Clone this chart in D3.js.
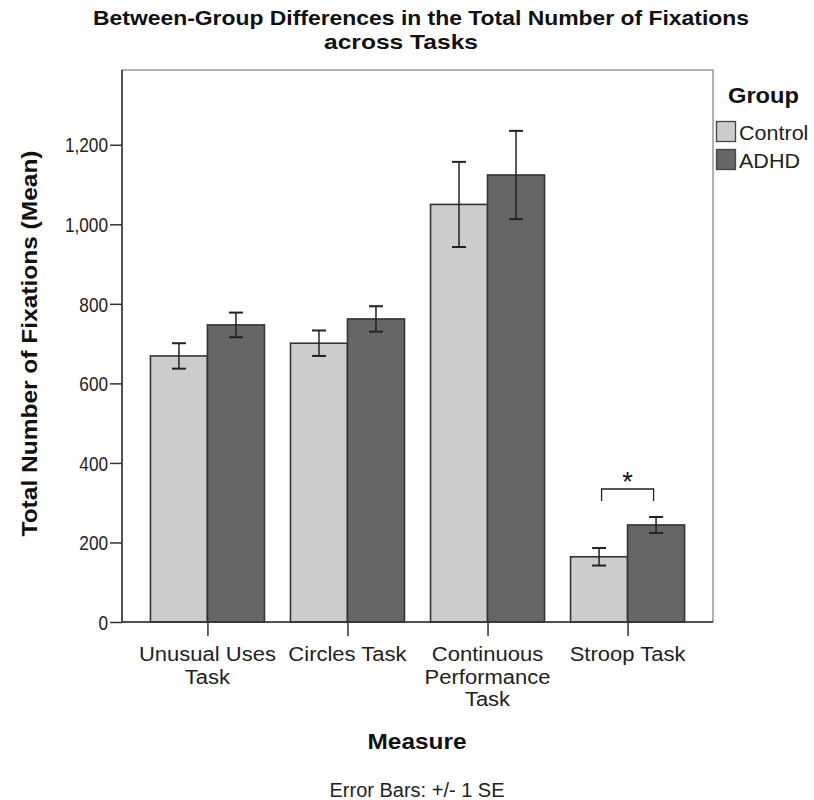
<!DOCTYPE html>
<html>
<head>
<meta charset="utf-8">
<script src="https://cdn.jsdelivr.net/npm/d3@7"></script>
<style>
  html, body { margin: 0; padding: 0; background: #fff; }
  svg { display: block; font-family: "Liberation Sans", Arial, sans-serif; }
</style>
</head>
<body>
<svg id="chart" width="814" height="800"></svg>
<script>
// Mean total fixations per task, by group, with standard errors
const tasks = ["Unusual Uses Task", "Circles Task", "Continuous Performance Task", "Stroop Task"];
const taskLabelLines = [["Unusual Uses", "Task"], ["Circles Task"], ["Continuous", "Performance", "Task"], ["Stroop Task"]];
const groups = ["Control", "ADHD"];
const controlMeans = [669, 701, 1050, 164];
const adhdMeans = [747, 762, 1124, 244];
const controlSE = [32, 32, 107, 22];
const adhdSE = [31, 32, 111, 20];
const yTicks = [0, 200, 400, 600, 800, 1000, 1200];
const groupColors = ["#cccccc", "#666666"];

const svg = d3.select("#chart");
const plotLeft = 122, plotRight = 713, plotTop = 70, plotBottom = 622;

// Stretch or squeeze a text run horizontally by a factor of its natural width
function scaleText(sel, factor) {
  sel.each(function () {
    const w = this.getComputedTextLength();
    if (w > 0) d3.select(this).attr("textLength", w * factor).attr("lengthAdjust", "spacingAndGlyphs");
  });
  return sel;
}
// Set a text run to an exact width
function setWidth(sel, width) {
  return sel.attr("textLength", width).attr("lengthAdjust", "spacingAndGlyphs");
}

const x = d3.scalePoint().domain(tasks).range([plotLeft, plotRight]).padding(0.61);
const barW = 57;
const y = d3.scaleLinear().domain([0, 1388]).range([plotBottom, plotTop]);

const rows = tasks.map((t, i) => ({
  task: t,
  vals: [
    { g: 0, mean: controlMeans[i], se: controlSE[i] },
    { g: 1, mean: adhdMeans[i], se: adhdSE[i] }
  ]
}));

// Title (two lines)
svg.append("text")
  .attr("x", 421).attr("y", 25).attr("text-anchor", "middle")
  .attr("font-weight", "bold").attr("font-size", 20.5).attr("fill", "#111")
  .text("Between-Group Differences in the Total Number of Fixations")
  .call(setWidth, 656);
svg.append("text")
  .attr("x", 401).attr("y", 48.5).attr("text-anchor", "middle")
  .attr("font-weight", "bold").attr("font-size", 20.5).attr("fill", "#111")
  .text("across Tasks")
  .call(setWidth, 154);

// Plot frame
svg.append("rect")
  .attr("x", plotLeft).attr("y", plotTop)
  .attr("width", plotRight - plotLeft).attr("height", plotBottom - plotTop)
  .attr("fill", "none").attr("stroke", "#888").attr("stroke-width", 1.3);

// Bars
const cat = svg.append("g").selectAll("g").data(rows).join("g");
cat.selectAll("rect").data(d => d.vals.map(v => ({ ...v, task: d.task }))).join("rect")
  .attr("x", d => x(d.task) - barW + d.g * barW)
  .attr("y", d => y(d.mean))
  .attr("width", barW)
  .attr("height", d => y(0) - y(d.mean))
  .attr("fill", d => groupColors[d.g])
  .attr("stroke", "#333").attr("stroke-width", 1.6);

// Error bars
const eb = cat.selectAll("g.err").data(d => d.vals.map(v => ({ ...v, task: d.task }))).join("g")
  .attr("class", "err")
  .attr("transform", d => `translate(${x(d.task) - barW / 2 + d.g * barW},0)`);
eb.append("line").attr("x1", 0).attr("x2", 0)
  .attr("y1", d => y(d.mean + d.se)).attr("y2", d => y(d.mean - d.se))
  .attr("stroke", "#222").attr("stroke-width", 1.5);
eb.selectAll("line.cap").data(d => [d.mean + d.se, d.mean - d.se]).join("line")
  .attr("class", "cap")
  .attr("x1", -7).attr("x2", 7)
  .attr("y1", v => y(v)).attr("y2", v => y(v))
  .attr("stroke", "#222").attr("stroke-width", 2);

// Y axis
const yAxis = svg.append("g").attr("transform", `translate(${plotLeft},0)`)
  .call(d3.axisLeft(y).tickValues(yTicks).tickSize(12).tickPadding(2).tickFormat(d3.format(",")));
yAxis.select(".domain").attr("stroke", "#333").attr("stroke-width", 1.5)
  .attr("d", `M0,${plotTop}V${plotBottom}`);
yAxis.selectAll(".tick line").attr("stroke", "#333").attr("stroke-width", 1.5);
yAxis.selectAll(".tick text").attr("font-size", 20).attr("fill", "#222")
  .attr("font-family", "Liberation Sans, Arial, sans-serif")
  .attr("dy", "0.36em")
  .call(scaleText, 0.86);

// X axis
const xAxis = svg.append("g").attr("transform", `translate(0,${plotBottom})`)
  .call(d3.axisBottom(x).tickSize(14).tickFormat(""));
xAxis.select(".domain").attr("stroke", "#333").attr("stroke-width", 1.5)
  .attr("d", `M${plotLeft},0H${plotRight}`);
xAxis.selectAll(".tick line").attr("stroke", "#333").attr("stroke-width", 1.5);

const xLabelData = tasks.flatMap((t, i) => taskLabelLines[i].map((ln, k) => ({ t, ln, k })));
svg.append("g").selectAll("text").data(xLabelData).join("text")
  .attr("x", d => x(d.t)).attr("y", d => 661 + d.k * 22.5)
  .attr("text-anchor", "middle").attr("font-size", 20).attr("fill", "#222")
  .text(d => d.ln)
  .call(scaleText, 1.1);

// Axis titles
svg.append("text")
  .attr("transform", `translate(37,${(plotTop + plotBottom) / 2 - 2.5}) rotate(-90)`)
  .attr("text-anchor", "middle").attr("font-weight", "bold").attr("font-size", 22).attr("fill", "#111")
  .text("Total Number of Fixations (Mean)")
  .call(setWidth, 386);
svg.append("text")
  .attr("x", 417).attr("y", 749).attr("text-anchor", "middle")
  .attr("font-weight", "bold").attr("font-size", 22).attr("fill", "#111")
  .text("Measure")
  .call(setWidth, 99);
svg.append("text")
  .attr("x", 417).attr("y", 797).attr("text-anchor", "middle")
  .attr("font-size", 20).attr("fill", "#222")
  .text("Error Bars: +/- 1 SE");

// Significance bracket over Stroop Task
const sIdx = 3;
const bx1 = x(tasks[sIdx]) - barW / 2 + 2.5, bx2 = x(tasks[sIdx]) + barW / 2 - 2.5;
const by = y(adhdMeans[sIdx] + adhdSE[sIdx]) - 28;
svg.append("path")
  .attr("d", `M${bx1},${by + 12}V${by}H${bx2}V${by + 12}`)
  .attr("fill", "none").attr("stroke", "#222").attr("stroke-width", 1.3);
svg.append("text")
  .attr("x", (bx1 + bx2) / 2).attr("y", by + 2).attr("text-anchor", "middle")
  .attr("font-size", 27).attr("fill", "#111").text("*");

// Legend
const lg = svg.append("g");
lg.append("text").attr("x", 728).attr("y", 103)
  .attr("font-weight", "bold").attr("font-size", 22).attr("fill", "#111").text("Group")
  .call(setWidth, 71);
groups.forEach((g, i) => {
  lg.append("rect").attr("x", 716.5).attr("y", 121.5 + i * 28).attr("width", 19).attr("height", 20)
    .attr("fill", groupColors[i]).attr("stroke", "#444").attr("stroke-width", 1.3);
  lg.append("text").attr("x", 739).attr("y", 140 + i * 28)
    .attr("font-size", 20.5).attr("fill", "#222").text(g)
    .call(scaleText, 1.05);
});
</script>
</body>
</html>
